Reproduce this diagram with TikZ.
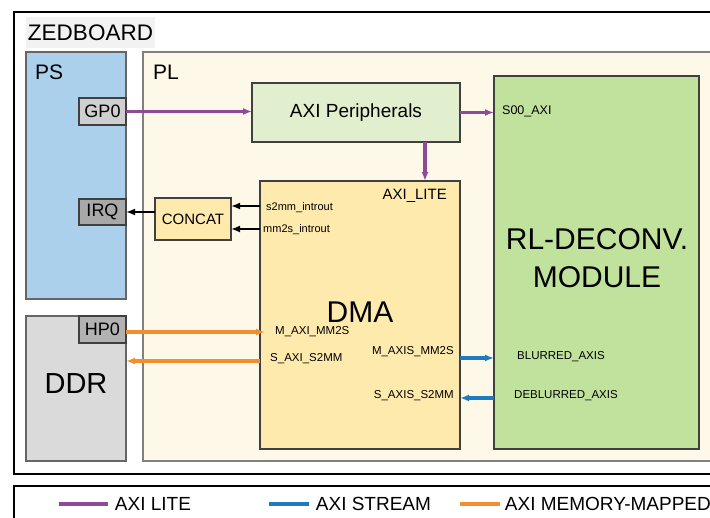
\documentclass[tikz,border=0pt]{standalone}
\usepackage{fontspec}
\setmainfont{Liberation Sans}
\usetikzlibrary{arrows.meta}

\definecolor{psblue}{HTML}{ABD0EC}
\definecolor{plbg}{HTML}{FEF8E8}
\definecolor{perigreen}{HTML}{E2EFCE}
\definecolor{rlgreen}{HTML}{C1E29C}
\definecolor{dmayellow}{HTML}{FEEAAD}
\definecolor{ddrgray}{HTML}{DADADA}
\definecolor{litecol}{HTML}{8E4A96}
\definecolor{streamcol}{HTML}{1F7BBF}
\definecolor{mmcol}{HTML}{F28E2B}

\begin{document}
\begin{tikzpicture}[x=1pt,y=-1pt,>={Latex[length=9pt,width=7pt]}]
	\tikzset{box/.style={draw=black!75,line width=1.1pt,inner sep=0pt,outer sep=0pt},
		port/.style={box,font=\fontsize{18}{18}\selectfont},
		sig/.style={font=\fontsize{11.5}{12}\selectfont,inner sep=0pt},
		lite/.style={litecol,line width=3.2pt,->},
		stream/.style={streamcol,line width=3.2pt,->},
		mm/.style={mmcol,line width=3.2pt,->},
		irqline/.style={black,line width=2.8pt,->}}
	\useasboundingbox (0,0) rectangle (710,518);
	\clip (0,0) rectangle (710,518);
	\fill[white] (0,0) rectangle (710,518);
	
	% board and legend frames
	\draw[line width=1.3pt] (14,12) rectangle (760,474);
	\draw[line width=1.3pt] (14,486) rectangle (760,560);
	\node (zedlbl) at (90.5,32.5) [fill=black!5,minimum width=129,minimum height=31,inner sep=0pt,font=\fontsize{22.5}{22}\selectfont]{ZEDBOARD};
	
	% processing system
	\node (ps) at (76,175.5) [box,draw=black!60,fill=psblue,minimum width=100,minimum height=247]{};
	\node (pslbl) at (35,72) [anchor=west,inner sep=0pt,font=\fontsize{21}{21}\selectfont]{PS};
	\node (gp0) at (102.5,111.5) [port,fill=black!19,minimum width=47,minimum height=27]{GP0};
	\node (irq) at (102.5,212) [port,fill=black!34,minimum width=47,minimum height=26]{IRQ};
	
	\node (ddr) at (76,388.5) [box,draw=black!60,fill=ddrgray,minimum width=100,minimum height=145]{};
	\node (ddrlbl) at (76,384) [font=\fontsize{29}{29}\selectfont]{DDR};
	\node (hp0) at (102.5,329.5) [port,fill=black!30,minimum width=47,minimum height=27]{HP0};
	
	% programmable logic
	\draw[black!50,line width=1.2pt,fill=plbg] (143,52) rectangle (760,461);
	\node (pllbl) at (153,72) [anchor=west,inner sep=0pt,font=\fontsize{21}{21}\selectfont]{PL};
	\node (axip) at (356,112.5) [box,fill=perigreen,minimum width=208,minimum height=59,font=\fontsize{19}{19}\selectfont]{AXI Peripherals};
	\node (rl) at (596.5,262.5) [box,fill=rlgreen,minimum width=205,minimum height=373]{};
	\node (rllbl) at (597,258) [align=center,font=\fontsize{30}{38}\selectfont]{RL-DECONV.\\MODULE};
	\node (dma) at (360,315) [box,fill=dmayellow,minimum width=200,minimum height=268]{};
	\node (dmalbl) at (360,312) [font=\fontsize{30}{30}\selectfont]{DMA};
	\node (concat) at (193,219) [box,fill=dmayellow,minimum width=76,minimum height=42,font=\fontsize{15}{15}\selectfont]{CONCAT};
	
	% port names
	\node (s00) at (502,111) [sig,anchor=west,font=\fontsize{12.5}{13}\selectfont]{S00\_AXI};
	\node (axilite) at (447,196) [sig,anchor=east,font=\fontsize{15}{15}\selectfont]{AXI\_LITE};
	\node (s2mmirq) at (266,208) [sig,anchor=west,font=\fontsize{11}{11}\selectfont]{s2mm\_introut};
	\node (mm2sirq) at (263,230) [sig,anchor=west,font=\fontsize{11}{11}\selectfont]{mm2s\_introut};
	\node (mmaxi) at (275,332) [sig,anchor=west]{M\_AXI\_MM2S};
	\node (saxi) at (270,359) [sig,anchor=west]{S\_AXI\_S2MM};
	\node (maxis) at (454,352) [sig,anchor=east]{M\_AXIS\_MM2S};
	\node (saxis) at (454,396) [sig,anchor=east]{S\_AXIS\_S2MM};
	\node (blur) at (517,357) [sig,anchor=west]{BLURRED\_AXIS};
	\node (deblur) at (514,396) [sig,anchor=west]{DEBLURRED\_AXIS};
	
	% connections
	\coordinate (litein) at (425,181);
	\draw[lite] (gp0.east) -- (gp0.east -| axip.west);
	\draw[lite] (axip.east) -- (axip.east -| rl.west);
	\draw[lite] (axip.south -| litein) -- (litein);
	\draw[irqline] (dma.west |- 0,206) -- (concat.east |- 0,206);
	\draw[irqline] (dma.west |- 0,229) -- (concat.east |- 0,229);
	\draw[irqline] (concat.west |- irq.east) -- (irq.east);
	\draw[mm] (hp0.east |- 0,332) -- (265,332);
	\draw[mm] (dma.west |- 0,361) -- (ddr.east |- 0,361);
	\draw[stream] (dma.east |- 0,358) -- (rl.west |- 0,358);
	\draw[stream] (rl.west |- 0,398) -- (dma.east |- 0,398);
	
	% legend
	\draw[litecol,line width=3.2pt] (59,504) -- (108,504) node (leglite) [right=2pt,black,font=\fontsize{19}{19}\selectfont]{AXI LITE};
	\draw[streamcol,line width=3.2pt] (269,504) -- (309,504) node (legstream) [right=2pt,black,font=\fontsize{19}{19}\selectfont]{AXI STREAM};
	\draw[mmcol,line width=3.2pt] (460,504) -- (500,504) node (legmm) [right=0pt,black,font=\fontsize{19}{19}\selectfont]{AXI MEMORY-MAPPED};
\end{tikzpicture}
\end{document}
